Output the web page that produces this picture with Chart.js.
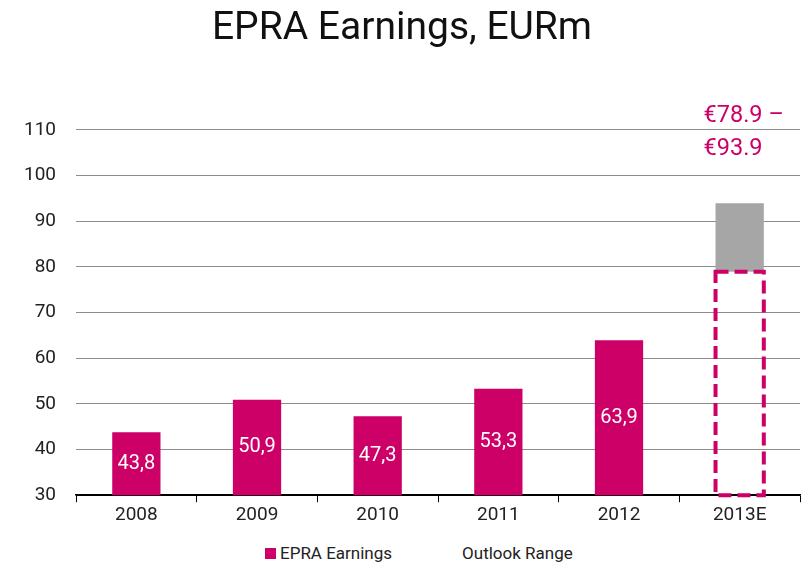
<!DOCTYPE html>
<html>
<head>
<meta charset="utf-8">
<script src="https://cdn.jsdelivr.net/npm/chart.js@4"></script>
<style>
  body { margin: 0; background: #fff; font-family: Roboto, sans-serif; }
  #wrap { position: relative; width: 801px; height: 535px; }
  #legend { position: absolute; left: 265px; top: 543px; display: flex; font-size: 17px; color: #222; }
  .item { display: flex; align-items: center; }
  .item + .item { margin-left: 55px; }
  .swatch { width: 11px; height: 11px; margin-right: 4px; }
</style>
</head>
<body>
<div id="wrap"><canvas id="chart"></canvas></div>
<div id="legend"></div>
<script>
const years = ['2008', '2009', '2010', '2011', '2012', '2013E'];
const earnings = [43.8, 50.9, 47.3, 53.3, 63.9, null];
const outlookLow = [null, null, null, null, null, 78.9];
const outlookRange = [null, null, null, null, null, [78.9, 93.9]];
const seriesNames = ['EPRA Earnings', 'Outlook Range'];
const outlookText = ['€78.9 –', '€93.9'];

const fontName = 'Roboto, sans-serif';
const magenta = '#cc0066';
const grey = '#a6a6a6';
const last = years.length - 1;

// html legend, outlook range has no swatch in the original
const legend = document.getElementById('legend');
const swatches = [magenta, 'transparent'];
seriesNames.forEach((name, i) => {
    legend.innerHTML += `<div class="item"><span class="swatch" style="background:${swatches[i]}"></span>${name}</div>`;
});

const barLabels = {
    id: 'barLabels',
    afterDatasetsDraw(chart) {
        const ctx = chart.ctx;
        const bottom = chart.scales.y.getPixelForValue(chart.scales.y.min);
        ctx.save();

        // values inside the bars
        ctx.fillStyle = '#fff';
        ctx.font = '20px ' + fontName;
        ctx.textAlign = 'center';
        ctx.textBaseline = 'middle';
        chart.getDatasetMeta(0).data.forEach((bar, i) => {
            if (earnings[i] == null) return;
            ctx.fillText(earnings[i].toFixed(1).replace('.', ','), bar.x, (bar.y + bottom) / 2);
        });

        // dashed box for the low end of the outlook
        const low = chart.getDatasetMeta(1).data[last];
        ctx.strokeStyle = magenta;
        ctx.lineWidth = 4;
        ctx.setLineDash([13, 6]);
        ctx.strokeRect(low.x - low.width / 2, low.y, low.width, bottom - low.y);
        ctx.setLineDash([]);

        // range text above the grey bar
        const top = chart.getDatasetMeta(2).data[last];
        ctx.fillStyle = magenta;
        ctx.font = '23.5px ' + fontName;
        ctx.textAlign = 'left';
        ctx.fillText(outlookText[0], top.x - top.width / 2 - 12, top.y - 87);
        ctx.fillText(outlookText[1], top.x - top.width / 2 - 12, top.y - 54);
        ctx.restore();
    }
};

new Chart(document.getElementById('chart'), {
    type: 'bar',
    data: {
        labels: years,
        datasets: [
            {
                label: seriesNames[0],
                data: earnings,
                backgroundColor: magenta,
                grouped: false
            },
            {
                label: 'outlook low',
                data: outlookLow,
                backgroundColor: 'transparent',
                grouped: false
            },
            {
                label: seriesNames[1],
                data: outlookRange,
                backgroundColor: grey,
                grouped: false
            }
        ]
    },
    options: {
        responsive: true,
        maintainAspectRatio: false,
        animation: false,
        barPercentage: 0.5,
        categoryPercentage: 0.8,
        layout: { padding: { left: 4, right: 1, bottom: 6 } },
        plugins: {
            legend: { display: false },
            tooltip: { enabled: false },
            title: {
                display: true,
                text: 'EPRA Earnings, EURm',
                color: '#111',
                font: { family: fontName, size: 39, weight: 'normal' },
                padding: { top: 6, bottom: 77 }
            }
        },
        scales: {
            x: {
                grid: { drawOnChartArea: false, drawTicks: true, tickLength: 7, color: '#000' },
                border: { color: '#000', width: 1.5 },
                ticks: { color: '#222', font: { family: fontName, size: 19 }, padding: 2 }
            },
            y: {
                min: 30,
                max: 110,
                border: { display: false },
                grid: {
                    drawTicks: false,
                    color: (c) => c.tick && c.tick.value === 30 ? '#000' : '#8c8c8c'
                },
                ticks: { stepSize: 10, color: '#222', font: { family: fontName, size: 19 }, padding: 20 }
            }
        }
    },
    plugins: [barLabels]
});
</script>
</body>
</html>
